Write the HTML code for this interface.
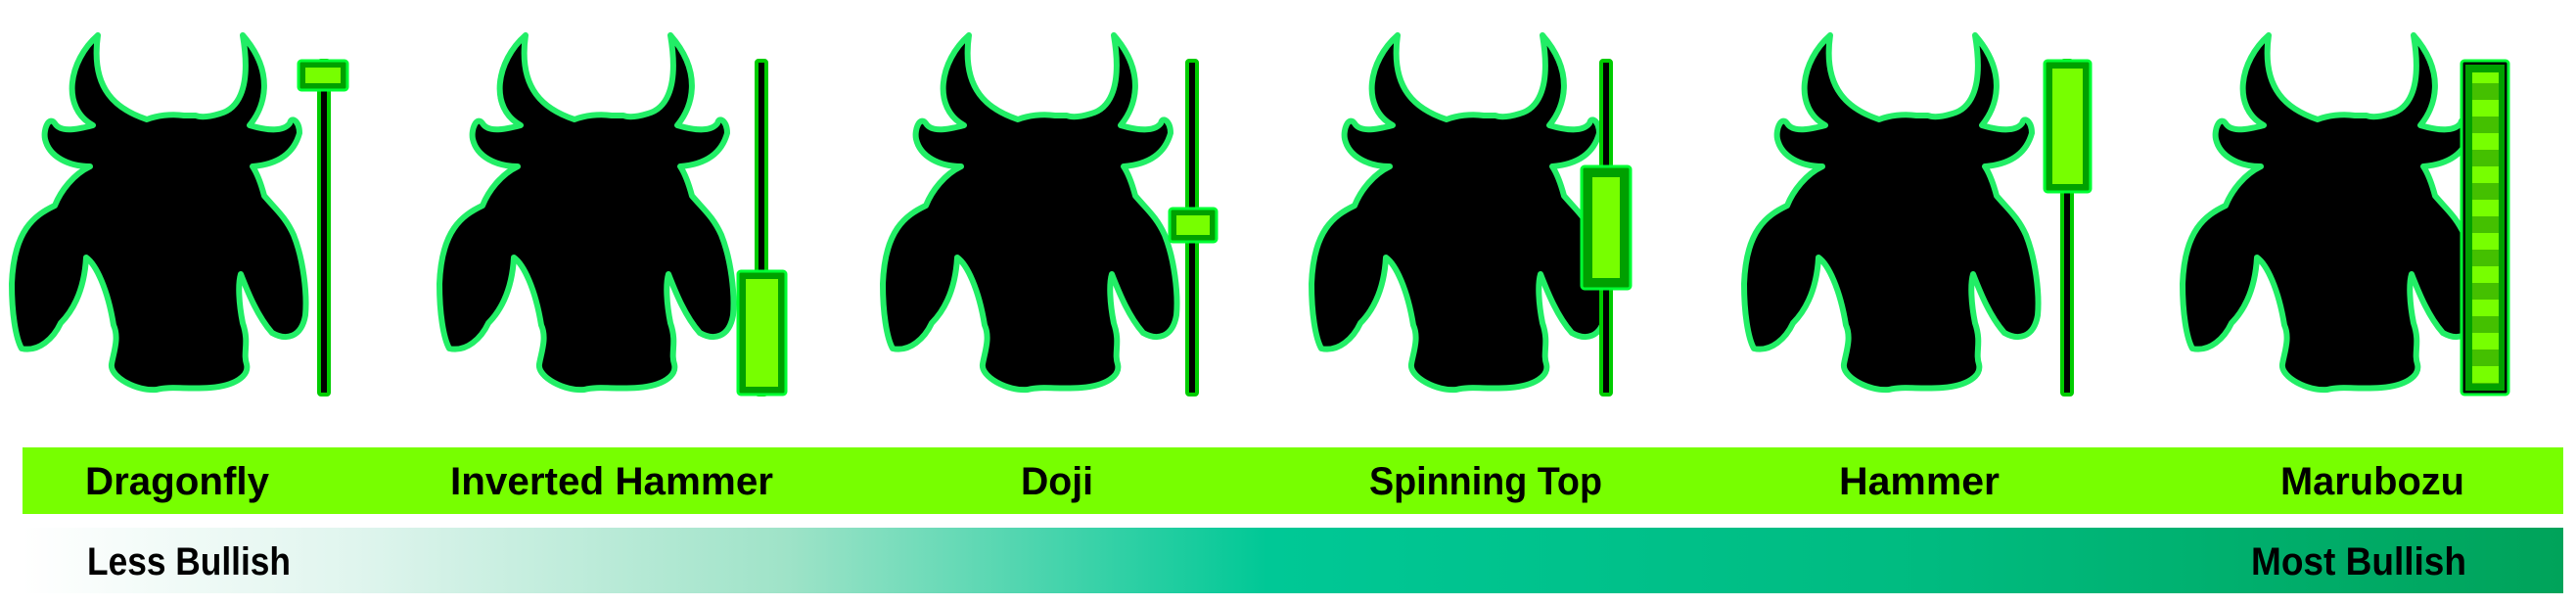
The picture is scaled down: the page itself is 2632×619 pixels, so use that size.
<!DOCTYPE html>
<html><head><meta charset="utf-8"><style>
html,body{margin:0;padding:0;background:#fff;}
svg{display:block;}
text{font-family:"Liberation Sans",sans-serif;font-weight:bold;fill:#000;}
</style></head><body>
<svg width="2632" height="619" viewBox="0 0 2632 619">
<defs>
<linearGradient id="bullg" x1="0" x2="1" y1="0" y2="0">
<stop offset="0" stop-color="#ffffff"/>
<stop offset="0.13" stop-color="#e0f5ee"/>
<stop offset="0.3" stop-color="#9fe3c8"/>
<stop offset="0.49" stop-color="#00c896"/>
<stop offset="0.75" stop-color="#00bb80"/>
<stop offset="1" stop-color="#00a35a"/>
</linearGradient>
<pattern id="stripes" x="0" y="0" width="10" height="34" patternUnits="userSpaceOnUse">
<rect width="10" height="17" fill="#77ff00"/><rect y="17" width="10" height="17" fill="#44c000"/>
</pattern>
<path id="bull" d="M188 118 C175 116 160 118 150 122 C120 112 92 92 100 36 C70 62 62 110 95 128 C80 132 62 136 56 126 C50 118 44 132 46 142 C50 160 70 170 92 170 C75 178 62 195 56 210 C35 220 14 235 12 290 C12 320 16 345 22 356 C40 360 55 345 62 330 C72 320 86 300 88 263 C98 270 110 295 116 332 C122 345 116 360 114 372 C112 385 140 400 160 398 C175 394 190 398 215 396 C240 394 255 384 252 372 C248 360 255 350 248 330 C244 310 243 290 246 280 C252 295 262 322 278 340 C292 348 308 345 312 322 C314 300 310 265 300 240 C292 222 282 214 270 200 C266 185 262 176 258 170 C282 168 300 158 306 136 C306 124 298 118 296 126 C290 134 275 134 255 128 C270 110 282 75 248 36 C258 95 240 112 225 116 C212 120 205 120 200 118 Z" fill="#000" stroke="#22ee66" stroke-width="6" stroke-linejoin="round"/>
</defs>

<g><use href="#bull" transform="translate(0,0)"/></g>
<g><use href="#bull" transform="translate(437,0)"/></g>
<g><use href="#bull" transform="translate(890,0)"/></g>
<g><use href="#bull" transform="translate(1328,0)"/></g>
<g><use href="#bull" transform="translate(1770,0)"/></g>
<g><use href="#bull" transform="translate(2218,0)"/></g>

<g stroke-linejoin="round">
<g>
<rect x="326" y="62" width="10" height="341" rx="2" fill="#000" stroke="#00cc00" stroke-width="4"/>
<rect x="305" y="62" width="50" height="30" rx="3" fill="#00a000" stroke="#00ff33" stroke-width="3"/>
<rect x="312" y="69" width="36" height="16" fill="#77ff00"/>
</g>
<g>
<rect x="773" y="62" width="10" height="341" rx="2" fill="#000" stroke="#00cc00" stroke-width="4"/>
<rect x="754" y="277" width="49" height="126" rx="3" fill="#00a000" stroke="#00ff33" stroke-width="3"/>
<rect x="762" y="285" width="33" height="110" fill="#77ff00"/>
</g>
<g>
<rect x="1213" y="62" width="10" height="341" rx="2" fill="#000" stroke="#00cc00" stroke-width="4"/>
<rect x="1195" y="213" width="48" height="34" rx="3" fill="#00a000" stroke="#00ff33" stroke-width="3"/>
<rect x="1202" y="220" width="34" height="20" fill="#77ff00"/>
</g>
<g>
<rect x="1636" y="62" width="10" height="341" rx="2" fill="#000" stroke="#00cc00" stroke-width="4"/>
<rect x="1616" y="170" width="50" height="125" rx="3" fill="#00a000" stroke="#00ff33" stroke-width="3"/>
<rect x="1627" y="181" width="28" height="103" fill="#77ff00"/>
</g>
<g>
<rect x="2107" y="62" width="10" height="341" rx="2" fill="#000" stroke="#00cc00" stroke-width="4"/>
<rect x="2089" y="62" width="47" height="134" rx="3" fill="#00a000" stroke="#00ff33" stroke-width="3"/>
<rect x="2097" y="70" width="31" height="118" fill="#77ff00"/>
</g>
<g>
<rect x="2515" y="62" width="48" height="341" rx="3" fill="#000" stroke="#00ff33" stroke-width="3"/>
<rect x="2519" y="66" width="40" height="333" fill="#00a000"/>
<rect x="2526" y="74" width="27" height="318" fill="url(#stripes)"/>
</g>
</g>

<g>
<rect x="23" y="457" width="2596" height="68" fill="#77ff00"/>
<text x="181" y="505" font-size="40" text-anchor="middle" textLength="188" lengthAdjust="spacingAndGlyphs">Dragonfly</text>
<text x="625" y="505" font-size="40" text-anchor="middle" textLength="330" lengthAdjust="spacingAndGlyphs">Inverted Hammer</text>
<text x="1080" y="505" font-size="40" text-anchor="middle" textLength="74" lengthAdjust="spacingAndGlyphs">Doji</text>
<text x="1518" y="505" font-size="40" text-anchor="middle" textLength="238" lengthAdjust="spacingAndGlyphs">Spinning Top</text>
<text x="1961" y="505" font-size="40" text-anchor="middle" textLength="164" lengthAdjust="spacingAndGlyphs">Hammer</text>
<text x="2424" y="505" font-size="40" text-anchor="middle" textLength="188" lengthAdjust="spacingAndGlyphs">Marubozu</text>
</g>

<g>
<rect x="23" y="539" width="2596" height="67" fill="url(#bullg)"/>
<text x="89" y="587" font-size="40" textLength="208" lengthAdjust="spacingAndGlyphs">Less Bullish</text>
<text x="2520" y="587" font-size="40" text-anchor="end" textLength="220" lengthAdjust="spacingAndGlyphs">Most Bullish</text>
</g>
</svg>
</body></html>
